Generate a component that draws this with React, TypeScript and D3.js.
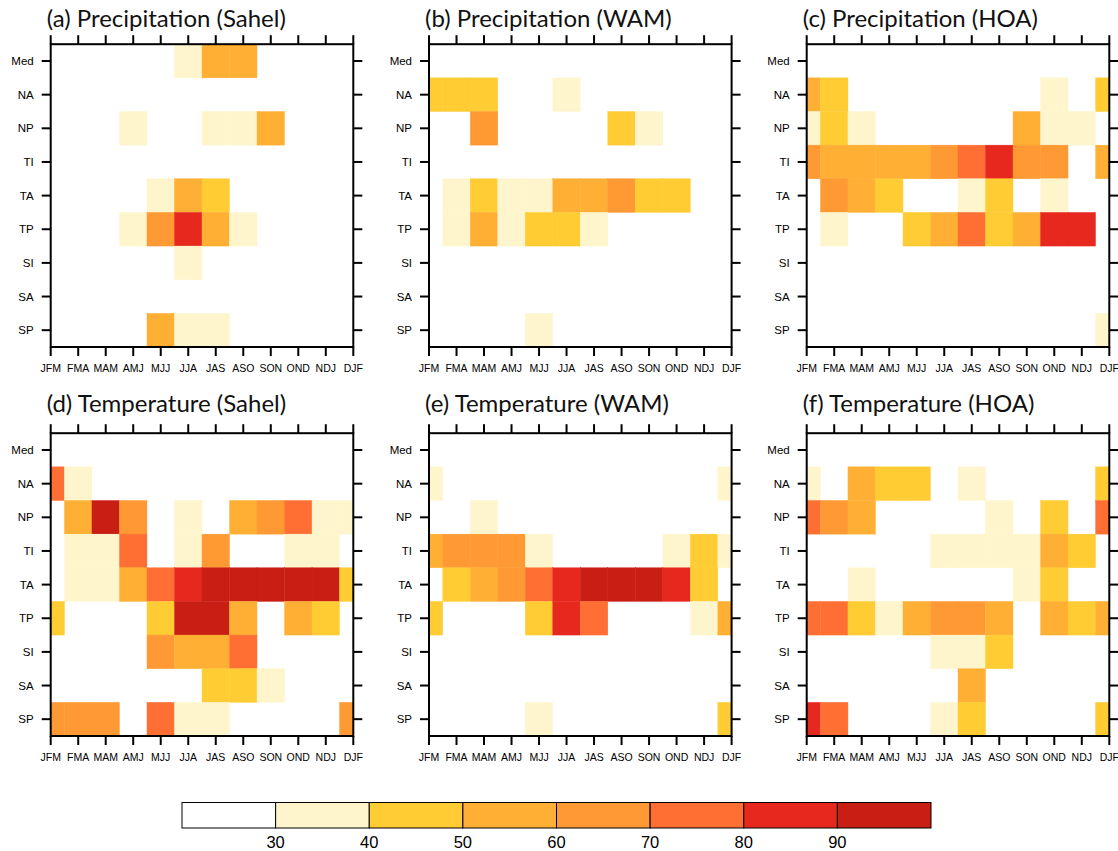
import React from "react";
import * as d3 from "d3";

const months = ["JFM", "FMA", "MAM", "AMJ", "MJJ", "JJA", "JAS", "ASO", "SON", "OND", "NDJ", "DJF"];
const regions = ["Med", "NA", "NP", "TI", "TA", "TP", "SI", "SA", "SP"];

// percentage values (rows follow `regions`, columns follow `months`)
const precipSahel = [
  [0, 0, 0, 0, 0, 35, 55, 55, 0, 0, 0, 0],
  [0, 0, 0, 0, 0, 0, 0, 0, 0, 0, 0, 0],
  [0, 0, 0, 35, 0, 0, 35, 35, 55, 0, 0, 0],
  [0, 0, 0, 0, 0, 0, 0, 0, 0, 0, 0, 0],
  [0, 0, 0, 0, 35, 55, 45, 0, 0, 0, 0, 0],
  [0, 0, 0, 35, 65, 85, 55, 35, 0, 0, 0, 0],
  [0, 0, 0, 0, 0, 35, 0, 0, 0, 0, 0, 0],
  [0, 0, 0, 0, 0, 0, 0, 0, 0, 0, 0, 0],
  [0, 0, 0, 0, 55, 35, 35, 0, 0, 0, 0, 0],
];
const precipWAM = [
  [0, 0, 0, 0, 0, 0, 0, 0, 0, 0, 0, 0],
  [45, 45, 45, 0, 0, 35, 0, 0, 0, 0, 0, 0],
  [0, 0, 65, 0, 0, 0, 0, 45, 35, 0, 0, 0],
  [0, 0, 0, 0, 0, 0, 0, 0, 0, 0, 0, 0],
  [0, 35, 45, 35, 35, 55, 55, 65, 45, 45, 0, 0],
  [0, 35, 55, 35, 45, 45, 35, 0, 0, 0, 0, 0],
  [0, 0, 0, 0, 0, 0, 0, 0, 0, 0, 0, 0],
  [0, 0, 0, 0, 0, 0, 0, 0, 0, 0, 0, 0],
  [0, 0, 0, 0, 35, 0, 0, 0, 0, 0, 0, 0],
];
const precipHOA = [
  [0, 0, 0, 0, 0, 0, 0, 0, 0, 0, 0, 0],
  [55, 45, 0, 0, 0, 0, 0, 0, 0, 35, 0, 45],
  [35, 45, 35, 0, 0, 0, 0, 0, 55, 35, 35, 0],
  [65, 55, 55, 55, 55, 65, 75, 85, 65, 65, 0, 55],
  [0, 65, 55, 45, 0, 0, 35, 45, 0, 35, 0, 0],
  [0, 35, 0, 0, 45, 55, 75, 45, 55, 85, 85, 0],
  [0, 0, 0, 0, 0, 0, 0, 0, 0, 0, 0, 0],
  [0, 0, 0, 0, 0, 0, 0, 0, 0, 0, 0, 0],
  [0, 0, 0, 0, 0, 0, 0, 0, 0, 0, 0, 35],
];
const tempSahel = [
  [0, 0, 0, 0, 0, 0, 0, 0, 0, 0, 0, 0],
  [75, 35, 0, 0, 0, 0, 0, 0, 0, 0, 0, 0],
  [0, 55, 95, 65, 0, 35, 0, 55, 65, 75, 35, 35],
  [0, 35, 35, 75, 0, 35, 65, 0, 0, 35, 35, 0],
  [0, 35, 35, 55, 75, 85, 95, 95, 95, 95, 95, 45],
  [45, 0, 0, 0, 45, 95, 95, 55, 0, 55, 45, 0],
  [0, 0, 0, 0, 65, 55, 55, 75, 0, 0, 0, 0],
  [0, 0, 0, 0, 0, 0, 45, 45, 35, 0, 0, 0],
  [65, 65, 65, 0, 75, 35, 35, 0, 0, 0, 0, 65],
];
const tempWAM = [
  [0, 0, 0, 0, 0, 0, 0, 0, 0, 0, 0, 0],
  [35, 0, 0, 0, 0, 0, 0, 0, 0, 0, 0, 35],
  [0, 0, 35, 0, 0, 0, 0, 0, 0, 0, 0, 0],
  [55, 65, 65, 65, 35, 0, 0, 0, 0, 35, 45, 35],
  [0, 45, 55, 65, 75, 85, 95, 95, 95, 85, 45, 0],
  [45, 0, 0, 0, 45, 85, 75, 0, 0, 0, 35, 55],
  [0, 0, 0, 0, 0, 0, 0, 0, 0, 0, 0, 0],
  [0, 0, 0, 0, 0, 0, 0, 0, 0, 0, 0, 0],
  [0, 0, 0, 0, 35, 0, 0, 0, 0, 0, 0, 45],
];
const tempHOA = [
  [0, 0, 0, 0, 0, 0, 0, 0, 0, 0, 0, 0],
  [35, 0, 55, 45, 45, 0, 35, 0, 0, 0, 0, 45],
  [75, 65, 55, 0, 0, 0, 0, 35, 0, 45, 0, 75],
  [0, 0, 0, 0, 0, 35, 35, 35, 35, 55, 45, 0],
  [0, 0, 35, 0, 0, 0, 0, 0, 35, 45, 0, 0],
  [75, 75, 45, 35, 55, 65, 65, 55, 0, 55, 45, 55],
  [0, 0, 0, 0, 0, 35, 35, 45, 0, 0, 0, 0],
  [0, 0, 0, 0, 0, 0, 55, 0, 0, 0, 0, 0],
  [85, 75, 0, 0, 0, 35, 45, 0, 0, 0, 0, 45],
];

const titles = [
  "(a) Precipitation (Sahel)",
  "(b) Precipitation (WAM)",
  "(c) Precipitation (HOA)",
  "(d) Temperature (Sahel)",
  "(e) Temperature (WAM)",
  "(f) Temperature (HOA)",
];
const panelData = [precipSahel, precipWAM, precipHOA, tempSahel, tempWAM, tempHOA];

const levels = [30, 40, 50, 60, 70, 80, 90];
const levelColors = ["#ffffff", "#fff5cc", "#ffcc33", "#ffaf33", "#ff9933", "#ff6f33", "#e6281e", "#c81e14"];

const W = 1118;
const H = 851;
const panelLefts = [50.7, 429, 806.7];
const panelTops = [44.2, 433.2];
const PW = 302.6;
const PH = 302.8;
const TICK = 9;
const axisFont = "'Liberation Sans', Arial, Helvetica, sans-serif";
const titleFont = "Lato, 'Open Sans', sans-serif";

const color = d3.scaleThreshold<number, string>().domain(levels).range(levelColors);

function Panel({ idx }: { idx: number }) {
  const col = idx % 3;
  const row = Math.floor(idx / 3);
  const left = panelLefts[col];
  const top = panelTops[row];
  const x = d3.scaleLinear().domain([0, months.length - 1]).range([left, left + PW]);
  const y = d3.scaleBand<string>().domain(regions).range([top, top + PH]).padding(0);
  const data = panelData[idx];
  const bottom = top + PH;
  const right = left + PW;

  const cells: React.ReactNode[] = [];
  data.forEach((vals, r) => {
    vals.forEach((v, c) => {
      if (v < levels[0]) return;
      const x0 = Math.max(x(c - 0.5), left);
      const x1 = Math.min(x(c + 0.5), right);
      cells.push(
        <rect
          key={`${r}-${c}`}
          x={x0}
          y={y(regions[r])!}
          width={x1 - x0}
          height={y.bandwidth()}
          fill={color(v)}
          stroke={color(v)}
          strokeWidth={0.4}
        />
      );
    });
  });

  return (
    <g>
      {cells}
      <text x={left - 4} y={row === 0 ? 26.5 : 411.8} fontFamily={titleFont} fontSize={24} fill="#111">
        {titles[idx]}
      </text>
      {months.map((m, i) => (
        <g key={m}>
          <line x1={x(i)} x2={x(i)} y1={top} y2={top - TICK} stroke="#000" strokeWidth={2} />
          <line x1={x(i)} x2={x(i)} y1={bottom} y2={bottom + TICK} stroke="#000" strokeWidth={2} />
          <text x={x(i)} y={bottom + 24.5} textAnchor="middle" fontFamily={axisFont} fontSize={10.5} fill="#000">
            {m}
          </text>
        </g>
      ))}
      {regions.map((rg) => {
        const cy = y(rg)! + y.bandwidth() / 2;
        return (
          <g key={rg}>
            <line x1={left} x2={left - TICK} y1={cy} y2={cy} stroke="#000" strokeWidth={2} />
            <line x1={right} x2={right + TICK} y1={cy} y2={cy} stroke="#000" strokeWidth={2} />
            <text x={left - 17} y={cy + 4} textAnchor="end" fontFamily={axisFont} fontSize={11.5} fill="#000">
              {rg}
            </text>
          </g>
        );
      })}
      <rect x={left} y={top} width={PW} height={PH} fill="none" stroke="#000" strokeWidth={2} />
    </g>
  );
}

function ColorBar() {
  const cbLeft = 182;
  const cbRight = 931;
  const cbTop = 802.5;
  const cbH = 25.5;
  const xb = d3.scaleLinear().domain([0, levelColors.length]).range([cbLeft, cbRight]);
  return (
    <g>
      {levelColors.map((c, i) => (
        <rect key={i} x={xb(i)} y={cbTop} width={xb(i + 1) - xb(i)} height={cbH} fill={c} stroke="#000" strokeWidth={1} />
      ))}
      {levels.map((lv, i) => (
        <text key={lv} x={xb(i + 1)} y={848.3} textAnchor="middle" fontFamily={axisFont} fontSize={16.5} fill="#000">
          {lv}
        </text>
      ))}
    </g>
  );
}

export default function App() {
  return (
    <svg
      width={W}
      height={H}
      viewBox={`0 0 ${W} ${H}`}
      style={{ position: "absolute", left: 0, top: 0, background: "#fff" }}
    >
      <rect x={0} y={0} width={W} height={H} fill="#fff" />
      {panelData.map((_, i) => (
        <Panel key={i} idx={i} />
      ))}
      <ColorBar />
    </svg>
  );
}
